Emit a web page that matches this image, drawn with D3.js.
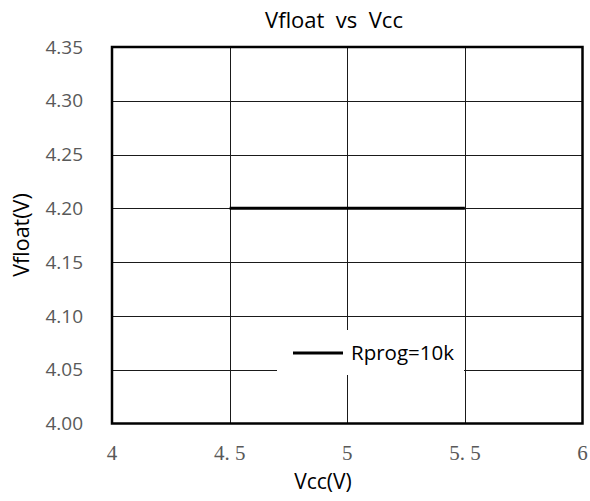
<!DOCTYPE html>
<html>
<head>
<meta charset="utf-8">
<script src="https://cdn.jsdelivr.net/npm/d3@7"></script>
<style>
  body { margin: 0; background: #fff; }
  svg { display: block; }
</style>
</head>
<body>
<div id="chart"></div>
<script>
// Chart data
const seriesName = 'Rprog=10k';
const vccValues = [4.5, 5.0, 5.5];
const vfloatValues = [4.20, 4.20, 4.20];
const xTicks = [4, 4.5, 5, 5.5, 6];
const yTicks = [4.00, 4.05, 4.10, 4.15, 4.20, 4.25, 4.30, 4.35];

const width = 590, height = 501;
const margin = { top: 47, right: 7, bottom: 77, left: 112 };

const svg = d3.select('#chart')
    .append('svg')
    .attr('width', width)
    .attr('height', height);

const x = d3.scaleLinear()
    .domain([4, 6])
    .range([margin.left, width - margin.right - 0.5]);

const y = d3.scaleLinear()
    .domain([4.00, 4.35])
    .range([height - margin.bottom - 0.5, margin.top]);

const plotW = x(6) - x(4);
const plotH = y(4.00) - y(4.35);

// Gridlines
svg.append('g')
    .selectAll('line')
    .data(xTicks.slice(1, -1))
    .join('line')
    .attr('x1', d => Math.round(x(d)) + 0.5)
    .attr('x2', d => Math.round(x(d)) + 0.5)
    .attr('y1', y(4.35))
    .attr('y2', y(4.00))
    .attr('stroke', '#1a1a1a')
    .attr('stroke-width', 1);

svg.append('g')
    .selectAll('line')
    .data(yTicks.slice(1, -1))
    .join('line')
    .attr('x1', x(4))
    .attr('x2', x(6))
    .attr('y1', d => Math.round(y(d)) + 0.5)
    .attr('y2', d => Math.round(y(d)) + 0.5)
    .attr('stroke', '#1a1a1a')
    .attr('stroke-width', 1);

// Data line
const line = d3.line()
    .x((d, i) => x(vccValues[i]))
    .y(d => y(d));

svg.append('path')
    .datum(vfloatValues)
    .attr('d', line)
    .attr('fill', 'none')
    .attr('stroke', '#000')
    .attr('stroke-width', 3);

// Plot border
svg.append('rect')
    .attr('x', x(4))
    .attr('y', y(4.35))
    .attr('width', plotW)
    .attr('height', plotH)
    .attr('fill', 'none')
    .attr('stroke', '#000')
    .attr('stroke-width', 2.5);

// Y axis tick labels
svg.append('g')
    .selectAll('text')
    .data(yTicks)
    .join('text')
    .attr('x', 83)
    .attr('y', d => y(d))
    .attr('dy', '0.35em')
    .attr('text-anchor', 'end')
    .attr('font-family', 'Open Sans, sans-serif')
    .attr('font-size', 19)
    .attr('fill', '#595959')
    .text(d => d3.format('.2f')(d));

// X axis tick labels (serif, wide decimal point)
svg.append('g')
    .selectAll('text')
    .data(xTicks)
    .join('text')
    .attr('x', d => x(d))
    .attr('y', 460)
    .attr('text-anchor', 'middle')
    .attr('font-family', 'Liberation Serif, DejaVu Serif, serif')
    .attr('font-size', 21)
    .attr('fill', '#595959')
    .text(d => String(d).replace('.', '. '));

// Title and axis titles
svg.append('text')
    .attr('x', 334)
    .attr('y', 28)
    .attr('text-anchor', 'middle')
    .attr('font-family', 'Open Sans, sans-serif')
    .attr('font-size', 22)
    .attr('fill', '#000')
    .style('white-space', 'pre')
    .text('Vfloat  vs  Vcc');

svg.append('text')
    .attr('x', 323)
    .attr('y', 489)
    .attr('text-anchor', 'middle')
    .attr('font-family', 'Open Sans, sans-serif')
    .attr('font-size', 21)
    .attr('fill', '#000')
    .text('Vcc(V)');

svg.append('text')
    .attr('transform', 'translate(29,235) rotate(-90)')
    .attr('text-anchor', 'middle')
    .attr('font-family', 'Open Sans, sans-serif')
    .attr('font-size', 21.5)
    .attr('fill', '#000')
    .text('Vfloat(V)');

// Legend
const legend = svg.append('g');
legend.append('rect')
    .attr('x', 277)
    .attr('y', 330)
    .attr('width', 187)
    .attr('height', 45)
    .attr('fill', '#fff');
legend.append('line')
    .attr('x1', 293)
    .attr('x2', 343)
    .attr('y1', 353)
    .attr('y2', 353)
    .attr('stroke', '#000')
    .attr('stroke-width', 3);
legend.append('text')
    .attr('x', 351)
    .attr('y', 353)
    .attr('dy', '0.35em')
    .attr('font-family', 'Open Sans, sans-serif')
    .attr('font-size', 20.5)
    .attr('fill', '#000')
    .text(seriesName);
</script>
</body>
</html>
